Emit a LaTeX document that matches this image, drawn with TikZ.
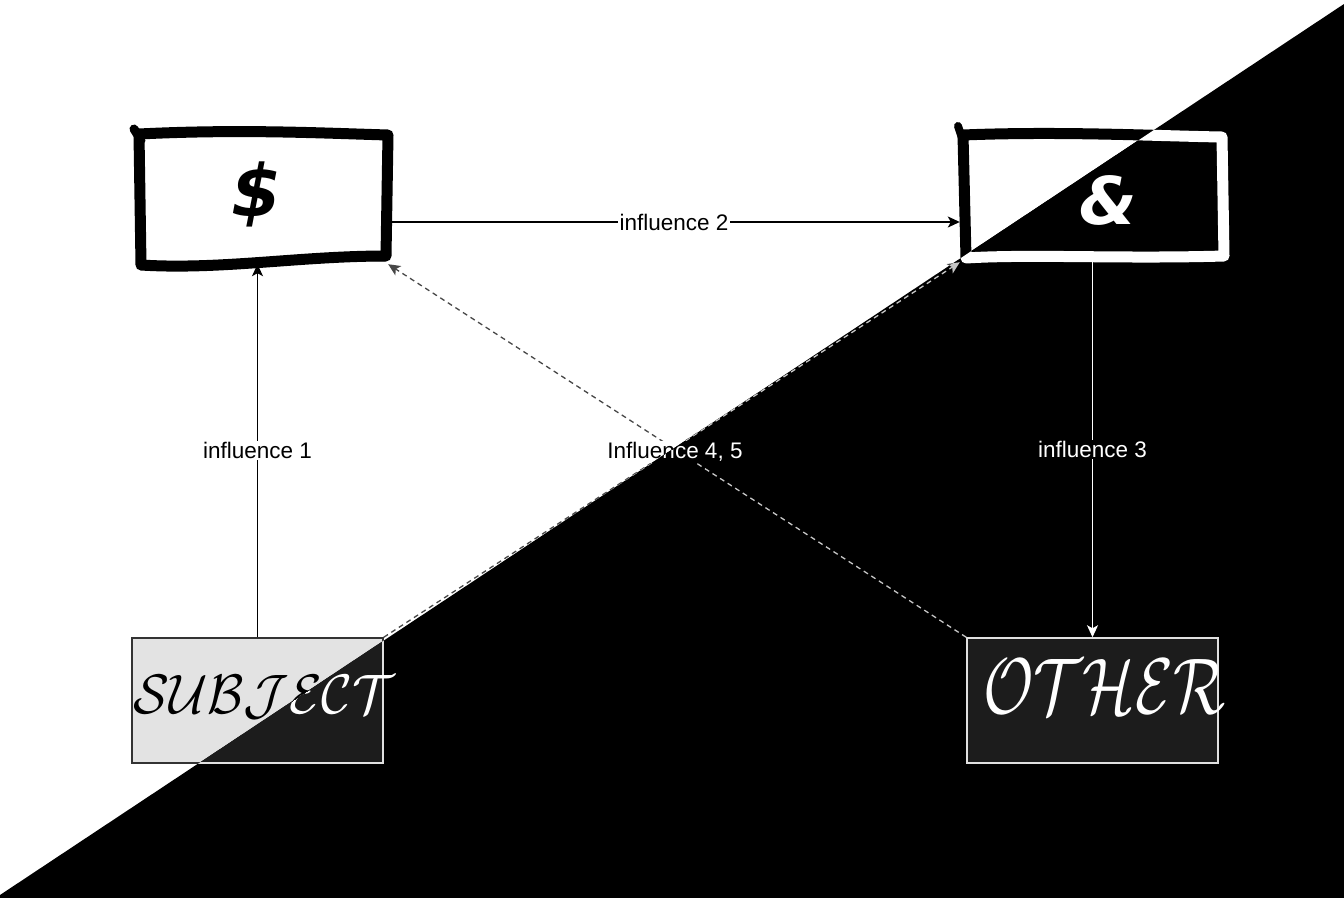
\documentclass[tikz,border=0pt]{standalone}
\usepackage{fontspec}
\usepackage{graphicx}
\usetikzlibrary{arrows.meta}
\newfontfamily\lblfont{Liberation Sans}
\newfontfamily\glyphfont{DejaVu Sans}

% two palettes: the ordinary drawing and its negative
\newcommand\plainpalette{%
  \colorlet{ink}{black}\colorlet{paper}{white}%
  \colorlet{boxfill}{black!11}\colorlet{boxline}{black!80}%
  \colorlet{dashcol}{black!72}\colorlet{strip}{black!18}}
\newcommand\negpalette{%
  \colorlet{ink}{white}\colorlet{paper}{black}%
  \colorlet{boxfill}{black!89}\colorlet{boxline}{black!12}%
  \colorlet{dashcol}{black!22}\colorlet{strip}{black!82}}

\tikzset{
  frame/.style={draw=none, inner sep=0pt},
  sketch/.style={draw=ink, fill=paper, line width=11pt, line join=round, line cap=round},
  plainbox/.style={draw=boxline, fill=boxfill, line width=1.5pt, inner sep=0pt},
  glyph/.style={text=ink, inner sep=0pt,
    font=\glyphfont\bfseries\itshape\fontsize{#1}{#1}\selectfont},
  script/.style={text=ink, inner sep=0pt, anchor=base west},
  conn/.style={draw=ink, line width=1.4pt, -{Stealth[length=12pt, width=11pt, inset=3pt]}},
  dashconn/.style={draw=dashcol, line width=1.3pt, dash pattern=on 5pt off 4pt,
    -{Stealth[length=12pt, width=11pt, inset=3pt]}},
  lbl/.style={fill=paper, text=ink, inner sep=1.5pt, font=\lblfont\fontsize{22.5}{22.5}\selectfont},
}

% the whole diagram, drawn in the current palette
\newcommand\diagramlayer{%
  \node[frame, minimum width=254pt, minimum height=134pt] (dollar) at (261,197) {};
  \node[frame, minimum width=268pt, minimum height=134pt] (amp) at (1094,195) {};
  \node[plainbox, minimum width=251pt, minimum height=125pt] (subject) at (257.5,700.5) {};
  \node[plainbox, minimum width=251pt, minimum height=125pt] (other) at (1092.5,700.5) {};
  % hand-drawn frames
  \fill[strip] (258,251) rectangle (385,262);
  \draw[sketch] (139,134) .. controls (240,129) and (320,133) .. (388,135)
    -- (386,256) .. controls (300,256) and (220,270) .. (141,265) -- cycle;
  \draw[ink, line width=9pt, line cap=round] (134,129) -- (141,140);
  \draw[sketch] (963,135) .. controls (1060,131) and (1160,136) .. (1222,137)
    -- (1224,256) .. controls (1120,259) and (1030,254) .. (966,258) -- cycle;
  \draw[ink, line width=8pt, line cap=round] (958,126) -- (963,141);
  \node[glyph=72] (dsign) at (257,194) {\$};
  \node[glyph=66] (asign) at (1108,200) {\&};
  % script captions
  \node[script] (subjtext) at (133,713) {\resizebox{262pt}{38pt}{$\mathcal{SUBJECT}$}};
  \node[script] (othertext) at (983,713) {\resizebox{242pt}{54pt}{$\mathcal{OTHER}$}};
  % connectors
  \coordinate (i2a) at ([yshift=-25pt]dollar.east);
  \coordinate (i2b) at (i2a -| amp.west);
  \draw[dashconn] (other.north west) -- (dollar.south east);
  \draw[dashconn] (subject.north east) -- (amp.south west);
  \draw[conn] (subject.north) -- (subject.north |- dollar.south)
    node[lbl, midway] (l1) {influence 1};
  \draw[conn] (i2a) -- (i2b) node[lbl, midway] (l2) {influence 2};
  \draw[conn] (amp.south -| other.north) -- (other.north)
    node[lbl, midway] (l3) {influence 3};
  \node[lbl] (l45) at (675,452) {Influence 4, 5};
}

\begin{document}
\begin{tikzpicture}[x=1pt, y=-1pt]
  \useasboundingbox (0,0) rectangle (1344,898);
  \fill[white] (0,0) rectangle (1344,898);
  \plainpalette
  \diagramlayer
  % lower-right half: black ground, diagram in negative
  \begin{scope}
    \clip (0,895) -- (1344,4) -- (1344,898) -- (0,898) -- cycle;
    \fill[black] (0,0) rectangle (1344,898);
    \negpalette
    \diagramlayer
  \end{scope}
\end{tikzpicture}
\end{document}
